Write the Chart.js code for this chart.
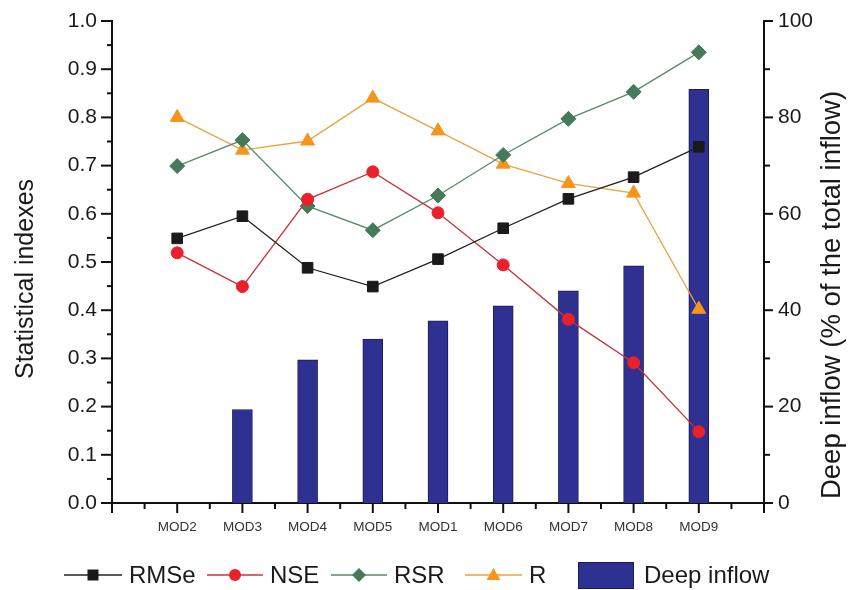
<!DOCTYPE html>
<html>
<head>
<meta charset="utf-8">
<script src="https://cdn.jsdelivr.net/npm/chart.js@4"></script>
<style>
  html, body { margin: 0; padding: 0; background: #fff; }
  #wrap { width: 861px; height: 590px; }
</style>
</head>
<body>
<div id="wrap"><canvas id="myChart" width="861" height="590"></canvas></div>
<script>
// ---------- data ----------
const categories = ['MOD2', 'MOD3', 'MOD4', 'MOD5', 'MOD1', 'MOD6', 'MOD7', 'MOD8', 'MOD9'];
const rmse = [0.549, 0.595, 0.488, 0.449, 0.506, 0.570, 0.631, 0.676, 0.739];
const nse = [0.519, 0.449, 0.630, 0.687, 0.602, 0.494, 0.381, 0.291, 0.148];
const rsr = [0.699, 0.753, 0.616, 0.566, 0.638, 0.722, 0.797, 0.853, 0.935];
const rIdx = [0.800, 0.732, 0.751, 0.840, 0.772, 0.703, 0.663, 0.643, 0.402];
const deepInflow = [null, 19.4, 29.7, 34.0, 37.8, 40.9, 44.0, 49.2, 85.8];
const leftTicks = [0, 1, 0.05];     // min, max, step
const rightTicks = [0, 100, 10];

const FONT = '"Liberation Sans", Arial, Helvetica, sans-serif';

function pts(arr) {
	return arr.map((v, i) => ({ x: i + 1, y: v }));
}

function lineSet(label, data, lineColor, pointColor, style, radius) {
	return {
		type: 'line',
		label: label,
		data: pts(data),
		yAxisID: 'y',
		borderColor: lineColor,
		borderWidth: 1.3,
		pointStyle: style,
		pointRadius: radius,
		pointBackgroundColor: pointColor,
		pointBorderColor: pointColor,
		pointBorderWidth: 1,
		order: 1
	};
}

// ---------- ticks (major/minor) ----------
const tickMarks = {
	id: 'tickMarks',
	afterDraw(chart) {
		const ctx = chart.ctx;
		ctx.save();
		ctx.strokeStyle = '#111';
		ctx.lineWidth = 2;
		const sx = chart.scales.x, sy = chart.scales.y, sy1 = chart.scales.y1;
		const area = chart.chartArea;
		sx.ticks.forEach(t => {
			const p = sx.getPixelForValue(t.value);
			const len = Number.isInteger(t.value) ? 10 : 6;
			ctx.beginPath();
			ctx.moveTo(p, area.bottom);
			ctx.lineTo(p, area.bottom + len);
			ctx.stroke();
		});
		sy.ticks.forEach(t => {
			const p = sy.getPixelForValue(t.value);
			const major = Math.abs(t.value * 10 - Math.round(t.value * 10)) < 1e-6;
			ctx.beginPath();
			ctx.moveTo(area.left, p);
			ctx.lineTo(area.left - (major ? 11 : 5), p);
			ctx.stroke();
		});
		sy1.ticks.forEach(t => {
			const p = sy1.getPixelForValue(t.value);
			const major = Math.round(t.value) % 20 === 0;
			ctx.beginPath();
			ctx.moveTo(area.right, p);
			ctx.lineTo(area.right + (major ? 9 : 6), p);
			ctx.stroke();
		});
		ctx.restore();
	}
};

// ---------- axis titles + legend ----------
const extras = {
	id: 'extras',
	afterDraw(chart) {
		const ctx = chart.ctx;
		const area = chart.chartArea;
		ctx.save();
		ctx.fillStyle = '#1a1a1a';
		ctx.textAlign = 'center';
		ctx.textBaseline = 'middle';

		ctx.font = '25px ' + FONT;
		ctx.save();
		ctx.translate(26, 279);
		ctx.rotate(-Math.PI / 2);
		ctx.fillText('Statistical indexes', 0, 0);
		ctx.restore();

		ctx.font = '27.5px ' + FONT;
		ctx.save();
		ctx.translate(area.right + 68, 295);
		ctx.rotate(-Math.PI / 2);
		ctx.fillText('Deep inflow (% of the total inflow)', 0, 0);
		ctx.restore();

		// legend
		const y = 575;
		const items = chart.data.datasets;
		const slots = [[64, 122], [207, 263], [331, 387], [465, 522]];
		ctx.textAlign = 'left';
		ctx.font = '24px ' + FONT;
		for (let i = 0; i < 4; i++) {
			const ds = items[i];
			const [a, b] = slots[i];
			const m = (a + b) / 2;
			ctx.strokeStyle = ds.borderColor;
			ctx.lineWidth = 1.3;
			ctx.beginPath();
			ctx.moveTo(a, y);
			ctx.lineTo(b, y);
			ctx.stroke();
			ctx.fillStyle = ds.pointBackgroundColor;
			ctx.beginPath();
			if (ds.pointStyle === 'rect') {
				ctx.rect(m - 5.5, y - 5.5, 11, 11);
			} else if (ds.pointStyle === 'circle') {
				ctx.arc(m, y, 6, 0, Math.PI * 2);
			} else if (ds.pointStyle === 'rectRot') {
				ctx.moveTo(m, y - 7); ctx.lineTo(m + 7, y); ctx.lineTo(m, y + 7); ctx.lineTo(m - 7, y);
				ctx.closePath();
			} else {
				ctx.moveTo(m, y - 7); ctx.lineTo(m + 7, y + 5); ctx.lineTo(m - 7, y + 5);
				ctx.closePath();
			}
			ctx.fill();
			ctx.fillStyle = '#1a1a1a';
			ctx.fillText(ds.label, b + 7, y + 1);
		}
		const bar = items[4];
		ctx.fillStyle = bar.backgroundColor;
		ctx.fillRect(578, 562, 56, 27);
		ctx.strokeStyle = bar.borderColor;
		ctx.lineWidth = 1;
		ctx.strokeRect(578.5, 562.5, 55, 26);
		ctx.fillStyle = '#1a1a1a';
		ctx.fillText(bar.label, 644, y + 1);
		ctx.restore();
	}
};

function noPad(s) {
	s.paddingTop = 0;
	s.paddingBottom = 0;
}

const ctx = document.getElementById('myChart').getContext('2d');
new Chart(ctx, {
	data: {
		datasets: [
			lineSet('RMSe', rmse, '#222222', '#1a1a1a', 'rect', 7.5),
			lineSet('NSE', nse, '#c8323c', '#e8212b', 'circle', 6),
			lineSet('RSR', rsr, '#558b6c', '#467a5b', 'rectRot', 7.5),
			lineSet('R', rIdx, '#e8a43e', '#f7941d', 'triangle', 8),
			{
				type: 'bar',
				label: 'Deep inflow',
				data: pts(deepInflow),
				yAxisID: 'y1',
				backgroundColor: '#2e3192',
				borderColor: '#1b1c4f',
				borderWidth: 1,
				barThickness: 20,
				order: 10
			}
		]
	},
	options: {
		responsive: false,
		devicePixelRatio: 1,
		animation: false,
		layout: { padding: { top: 21, left: 0, right: 0, bottom: 0 } },
		plugins: {
			legend: { display: false },
			tooltip: { enabled: false }
		},
		scales: {
			x: {
				type: 'linear',
				min: 0,
				max: 10,
				offset: false,
				ticks: {
					stepSize: 0.5,
					autoSkip: false,
					maxRotation: 0,
					padding: 16,
					color: '#333',
					font: { family: FONT, size: 13.5 },
					callback: v => (Number.isInteger(v) && v >= 1 && v <= categories.length) ? categories[v - 1] : ''
				},
				grid: { display: false, drawTicks: false, offset: false },
				border: { display: true, color: '#111', width: 2 },
				afterFit: s => { s.height = 87; s.paddingLeft = 0; s.paddingRight = 0; }
			},
			y: {
				position: 'left',
				min: leftTicks[0],
				max: leftTicks[1],
				ticks: {
					stepSize: leftTicks[2],
					autoSkip: false,
					padding: 15,
					color: '#1a1a1a',
					font: { family: FONT, size: 21 },
					callback: v => Math.abs(v * 10 - Math.round(v * 10)) < 1e-6 ? v.toFixed(1) : ''
				},
				grid: { display: false, drawTicks: false },
				border: { display: true, color: '#111', width: 2 },
				afterFit: s => { s.width = 112; noPad(s); }
			},
			y1: {
				position: 'right',
				min: rightTicks[0],
				max: rightTicks[1],
				ticks: {
					stepSize: rightTicks[2],
					autoSkip: false,
					padding: 14,
					color: '#1a1a1a',
					font: { family: FONT, size: 21 },
					callback: v => Math.round(v) % 20 === 0 ? String(v) : ''
				},
				grid: { display: false, drawTicks: false },
				border: { display: true, color: '#111', width: 2 },
				afterFit: s => { s.width = 97; noPad(s); }
			}
		}
	},
	plugins: [tickMarks, extras]
});
</script>
</body>
</html>
